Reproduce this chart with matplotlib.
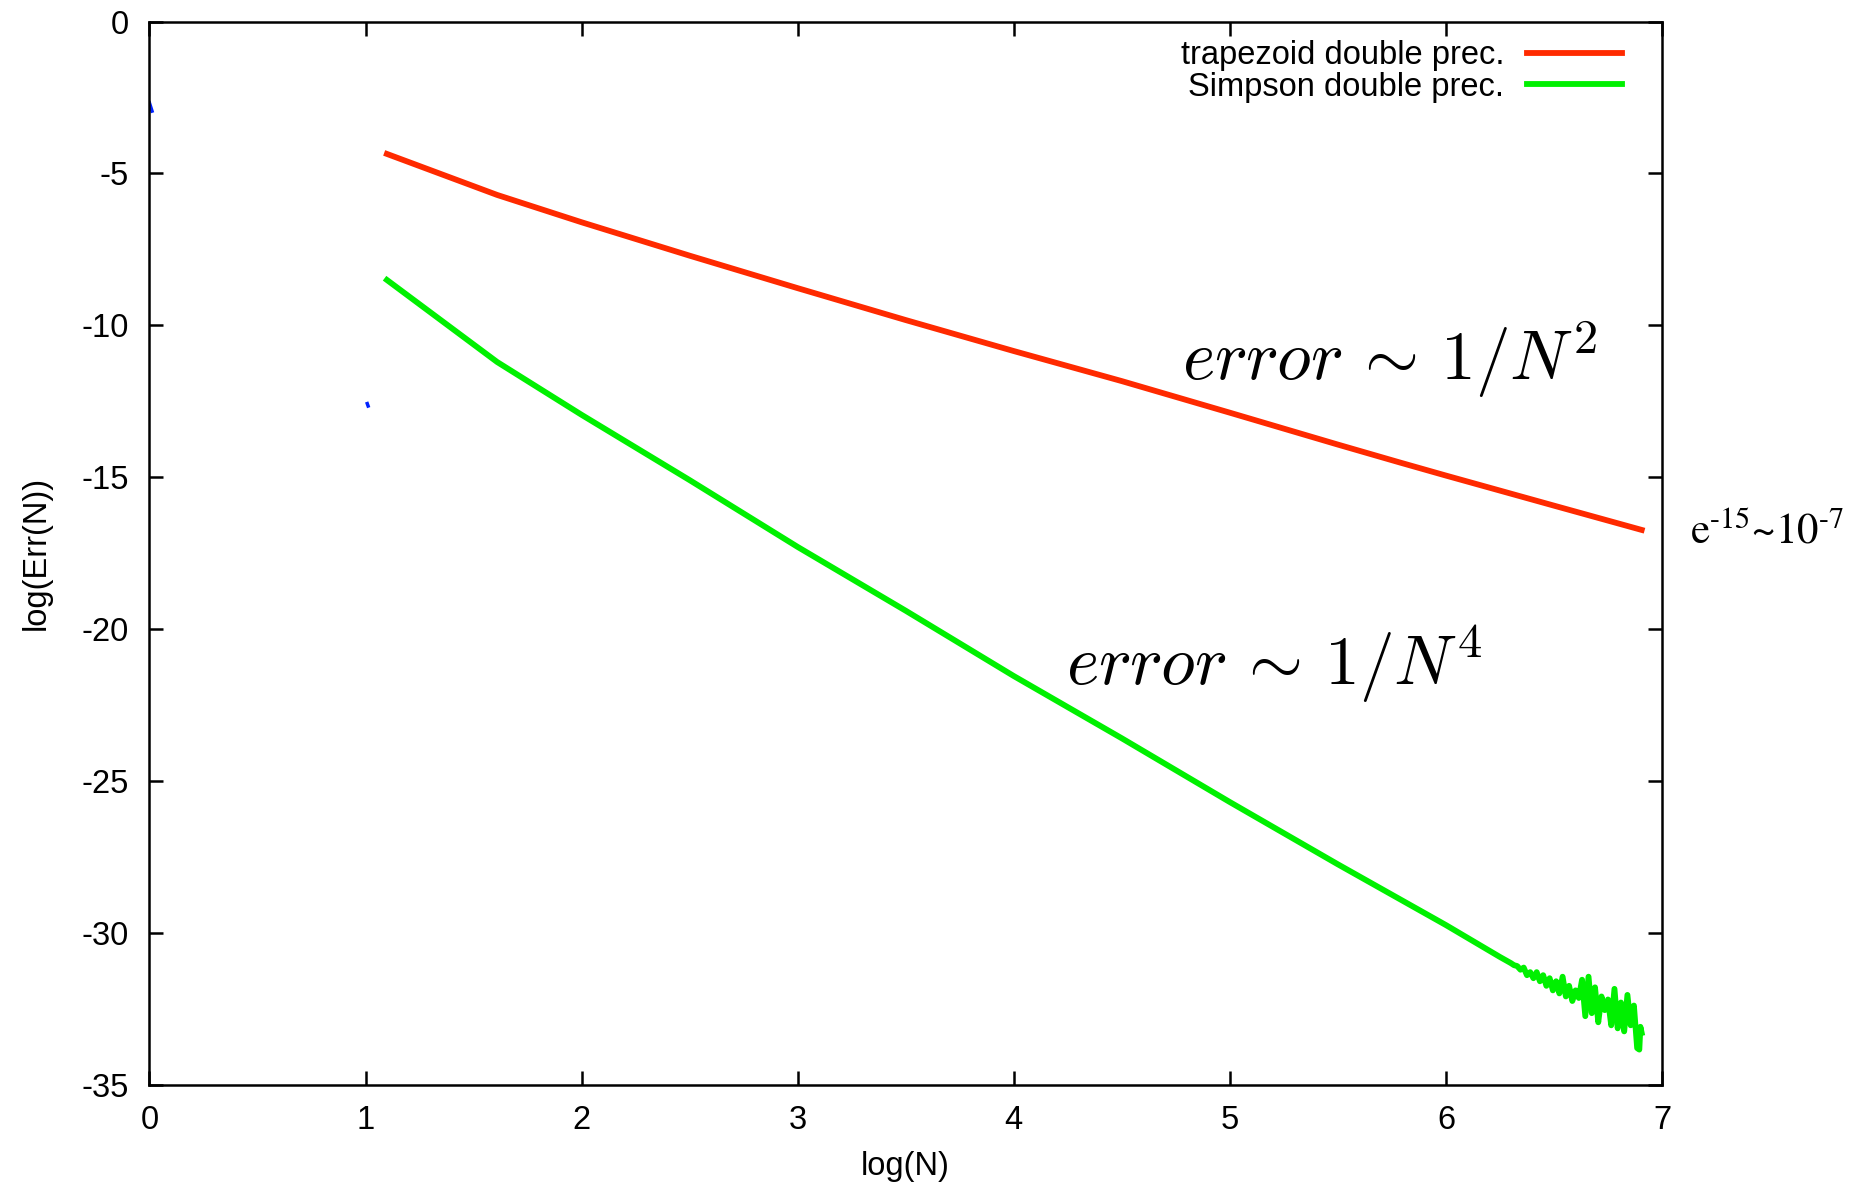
import matplotlib
matplotlib.use("Agg")
import matplotlib.pyplot as plt
import numpy as np

plt.rcParams['font.family'] = ['Liberation Sans', 'DejaVu Sans']
plt.rcParams['axes.unicode_minus'] = False

# trapezoid rule, double precision
trap_x = [1.099, 1.609, 2.0, 2.5, 3.0, 3.5, 4.0, 4.5, 5.0, 5.5, 5.787, 6.0, 6.5, 6.906]
trap_y = [-4.36, -5.71, -6.61, -7.71, -8.78, -9.83, -10.85, -11.84, -12.88, -13.93,
          -14.52, -14.95, -15.94, -16.74]

# Simpson rule, double precision (smooth part, then round-off noise)
simp_x = [1.099, 1.609, 2.0, 2.5, 3.0, 3.5, 4.0, 4.5, 5.0, 5.5, 6.0, 6.25,
          6.300, 6.315, 6.330, 6.345, 6.360, 6.375, 6.390, 6.405, 6.420, 6.435,
          6.450, 6.465, 6.480, 6.495, 6.510, 6.525, 6.540, 6.555, 6.570, 6.585,
          6.600, 6.615, 6.630, 6.645, 6.660, 6.675, 6.690, 6.705, 6.720, 6.735,
          6.750, 6.765, 6.780, 6.795, 6.810, 6.825, 6.840, 6.855, 6.870, 6.885,
          6.895, 6.900, 6.906]
simp_y = [-8.51, -11.21, -12.95, -15.10, -17.30, -19.40, -21.55, -23.60, -25.70,
          -27.75, -29.75, -30.80,
          -31.00, -31.07, -31.10, -31.22, -31.15, -31.40, -31.30, -31.50, -31.30,
          -31.60, -31.40, -31.75, -31.50, -31.90, -31.60, -32.00, -31.45, -32.10,
          -31.75, -32.25, -31.90, -32.15, -31.55, -32.75, -31.45, -32.65, -31.80,
          -32.95, -32.10, -32.55, -32.20, -33.05, -31.85, -33.15, -32.30, -33.25,
          -32.05, -33.05, -32.40, -33.80, -33.85, -33.10, -33.30]

# stray bits of a third (mostly hidden) series
blue_x = [0.0, 0.012, np.nan, 1.008, 1.012]
blue_y = [-2.68, -2.95, np.nan, -12.58, -12.66]

xticks = [0, 1, 2, 3, 4, 5, 6, 7]
yticks = [0, -5, -10, -15, -20, -25, -30, -35]

fig = plt.figure(figsize=(18.75, 11.88), dpi=100)
ax = fig.add_axes([0.0797, 0.0871, 0.8067, 0.8948])

ax.plot(blue_x, blue_y, color='#0022ff', lw=2.5)
ax.plot(trap_x, trap_y, color='#ff2a00', lw=4.2, label='trapezoid double prec.')
ax.plot(simp_x, simp_y, color='#00f000', lw=4.2, label='Simpson double prec.')

ax.set_xlim(0, 7)
ax.set_ylim(-35, 0)
ax.set_xticks(xticks)
ax.set_yticks(yticks)
ax.set_xticklabels([str(t) for t in xticks])
ax.set_yticklabels([str(t) for t in yticks])
ax.tick_params(direction='in', top=True, right=True, length=10, width=1.8,
               labelsize=23.5)
ax.tick_params(axis='y', pad=15)
ax.tick_params(axis='x', pad=15)
for s in ax.spines.values():
    s.set_linewidth(1.8)

fig.text(36 / 1875, 1 - 553 / 1188, 'log(Err(N))', rotation=90, ha='center',
         va='center', fontsize=23.5)
fig.text(905 / 1875, 1 - 1166 / 1188, 'log(N)', ha='center', va='center',
         fontsize=23.5)

leg = ax.legend(loc='upper right', bbox_to_anchor=(1622 / 1875, 1 - 40 / 1188),
                bbox_transform=fig.transFigure, frameon=False, markerfirst=False,
                fontsize=23.5, handlelength=2.9, handletextpad=0.7,
                labelspacing=0.02, borderpad=0, borderaxespad=0)

ax.text(4.78, -11.8, r'$error\,\sim\,1/N^2$', fontsize=50, math_fontfamily='cm',
        va='baseline')
ax.text(4.24, -21.85, r'$error\,\sim\,1/N^4$', fontsize=50, math_fontfamily='cm',
        va='baseline')
fig.text(1690 / 1875, 1 - 543 / 1188, r'$\mathrm{e}^{\text{-15}}\text{~}10^{\text{-7}}$',
         fontsize=31, math_fontfamily='stix', va='baseline')

fig.savefig('out.png', dpi=100)
